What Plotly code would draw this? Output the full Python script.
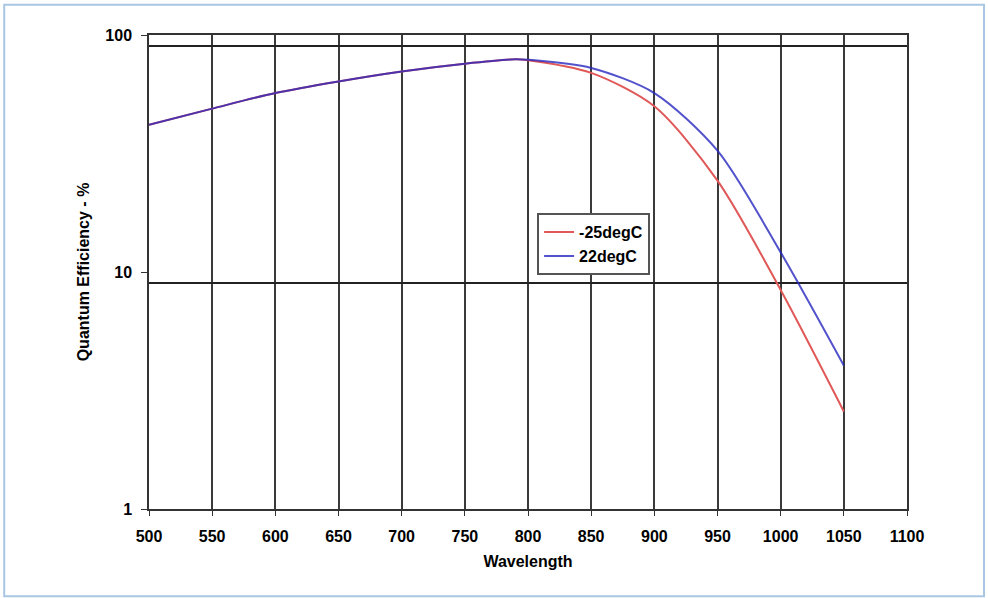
import plotly.graph_objects as go

wavelength = [500, 550, 600, 650, 700, 750, 790, 800, 850, 900, 950, 1000, 1050]
qe_minus25 = [41.8, 48.9, 56.9, 63.7, 70.2, 75.7, 79.0, 78.3, 69.2, 50.0, 24.3, 8.4, 2.58]
qe_plus22 = [41.8, 48.9, 56.9, 63.7, 70.2, 75.7, 79.0, 78.6, 72.6, 56.9, 32.5, 12.1, 4.03]
series_names = ["-25degC", "22degC"]
y_tick_vals = [1, 10, 100]
y_tick_text = ["1", "10", "100"]
h_grid_vals = [9, 90]
x_tick_vals = list(range(500, 1101, 50))

FONT = "Arial, Liberation Sans, sans-serif"

fig = go.Figure()
fig.add_trace(go.Scatter(x=wavelength, y=qe_minus25, name=series_names[0], mode="lines",
                         line=dict(color="#e05858", width=2, shape="spline", smoothing=0.8)))
fig.add_trace(go.Scatter(x=wavelength, y=qe_plus22, name=series_names[1], mode="lines",
                         opacity=0.8,
                         line=dict(color="#2828c0", width=2, shape="spline", smoothing=0.8)))
fig.add_trace(go.Scatter(x=[], y=[], yaxis="y2", showlegend=False, hoverinfo="skip"))

fig.update_layout(
    width=988, height=598,
    margin=dict(l=149, r=81, t=35, b=89),
    paper_bgcolor="white", plot_bgcolor="white",
    font=dict(family=FONT, size=16, color="black", weight="bold"),
    showlegend=True,
    legend=dict(x=0.512, y=0.624, xanchor="left", yanchor="top",
                bgcolor="white", bordercolor="#555", borderwidth=2,
                font=dict(family=FONT, size=16, color="black", weight="bold"),
                tracegroupgap=0, itemwidth=30),
    xaxis=dict(range=[500, 1100], tickvals=x_tick_vals, showgrid=True,
               gridcolor="#3a3a3a", gridwidth=2, showline=True, mirror=True,
               linecolor="#333", linewidth=1.5, ticks="outside", ticklen=5,
               tickcolor="#333", ticklabelstandoff=7, zeroline=False,
               tickfont=dict(family=FONT, size=16, weight="bold"),
               title=dict(text="Wavelength", standoff=12,
                          font=dict(family=FONT, size=16, weight="bold"))),
    yaxis=dict(type="log", range=[0, 2], tickvals=y_tick_vals, ticktext=y_tick_text,
               showgrid=False, showline=True, mirror=True, linecolor="#333",
               linewidth=1.5, ticks="outside", ticklen=6, tickcolor="#333",
               ticklabelstandoff=6, zeroline=False,
               tickfont=dict(family=FONT, size=16, weight="bold"),
               title=dict(text="Quantum Efficiency - %", standoff=12,
                          font=dict(family=FONT, size=16, weight="bold"))),
    yaxis2=dict(type="log", range=[0, 2], overlaying="y", anchor="x", side="left",
                tickvals=h_grid_vals, showticklabels=False, showgrid=True,
                gridcolor="#222", gridwidth=1.5, ticks="", showline=False, zeroline=False),
    shapes=[dict(type="rect", xref="paper", yref="paper",
                 x0=-0.191, x1=1.1016, y0=-0.184, y1=1.064,
                 line=dict(color="#a9c6e3", width=2), layer="below")],
)

fig.write_html("out.html")
